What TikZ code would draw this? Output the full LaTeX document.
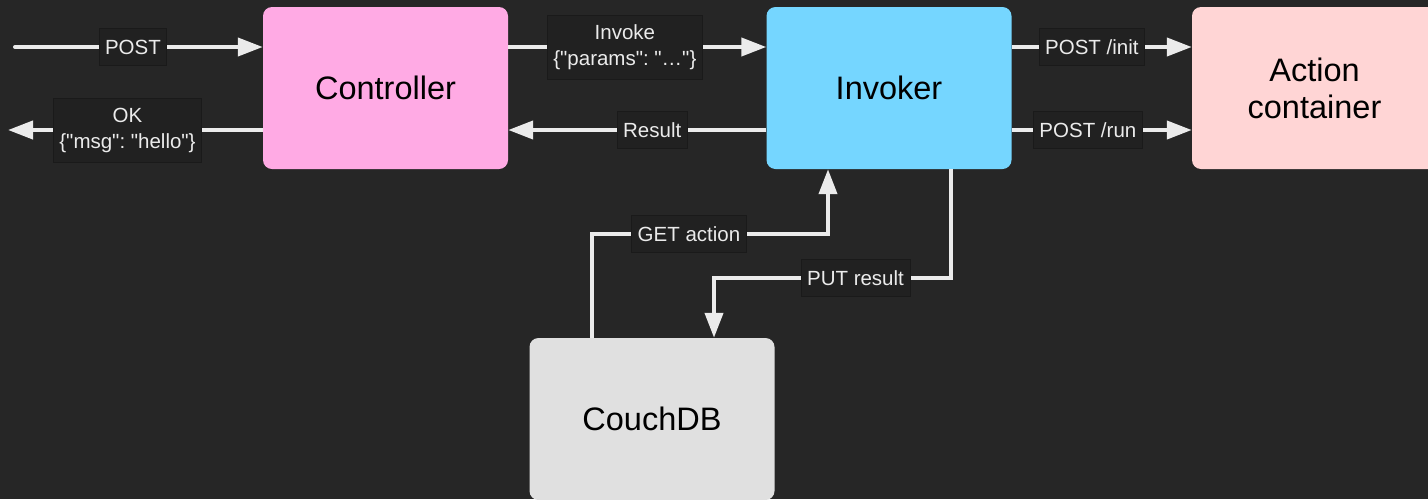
\documentclass[tikz,border=0pt]{standalone}
\usepackage{fontspec}
\setmainfont{Liberation Sans}[Ligatures=TeXOff]
\usetikzlibrary{arrows.meta}
\frenchspacing
\newcommand{\qq}{\symbol{34}}
\definecolor{bg}{HTML}{262626}
\definecolor{lblfill}{HTML}{212121}
\definecolor{lbldraw}{HTML}{1A1A1A}
\definecolor{linec}{HTML}{EBEBEB}
\definecolor{pinkc}{HTML}{FFAAE4}
\definecolor{bluec}{HTML}{75D6FF}
\definecolor{rosec}{HTML}{FFD5D5}
\definecolor{grayc}{HTML}{E0E0E0}
\tikzset{
  box/.style={rounded corners=9pt, inner sep=0pt, minimum width=245pt, minimum height=162pt,
    font=\fontsize{32.5}{37}\selectfont, text=black, align=center},
  lbl/.style={fill=lblfill, draw=lbldraw, line width=0.8pt, text=linec, inner xsep=6pt,
    inner ysep=0pt, minimum height=37pt, font=\fontsize{20.5}{26}\selectfont\frenchspacing, align=center},
  arr/.style={draw=linec, line width=4pt, -{Triangle[length=25pt,width=18pt]}},
  plain/.style={draw=linec, line width=4pt}
}
\begin{document}
\begin{tikzpicture}[x=1pt,y=-1pt]
\fill[bg] (0,0) rectangle (1428,499);
\useasboundingbox (0,0) rectangle (1428,499);
\clip (0,0) rectangle (1428,499);

\node[box, fill=pinkc] (ctrl) at (385.5,88) {Controller};
\node[box, fill=bluec] (inv) at (889,88) {Invoker};
\node[box, fill=rosec] (act) at (1314.5,88) {Action\\container};
\node[box, fill=grayc] (db) at (652,419) {CouchDB};

\coordinate (r1) at (0,47);
\coordinate (r2) at (0,130);
\coordinate (inP) at (15,47);
\coordinate (outP) at (8,130);
\coordinate (g1) at (592,234);
\coordinate (g2) at (828,234);
\coordinate (p1) at (951,278);
\coordinate (p2) at (714,278);

\draw[arr, line cap=round] (inP) -- node[lbl, pos=0.476] {POST} (ctrl.west |- r1);
\draw[arr] (ctrl.west |- r2) -- node[lbl, pos=0.531, minimum height=64pt] {OK\\\{\qq msg\qq: \qq hello\qq\}} (outP);
\draw[arr] (ctrl.east |- r1) -- node[lbl, pos=0.452, minimum height=64pt] {Invoke\\\{\qq params\qq: \qq…\qq\}} (inv.west |- r1);
\draw[arr] (inv.west |- r2) -- node[lbl, pos=0.442] {Result} (ctrl.east |- r2);
\draw[arr] (inv.east |- r1) -- node[lbl, pos=0.445] {POST /init} (act.west |- r1);
\draw[arr] (inv.east |- r2) -- node[lbl, pos=0.423] {POST /run} (act.west |- r2);
\draw[arr] (db.north -| g1) -- (g1) -- node[lbl, pos=0.411] {GET action} (g2) -- (inv.south -| g2);
\draw[arr] (inv.south -| p1) -- (p1) -- node[lbl, pos=0.403] {PUT result} (p2) -- (db.north -| p2);
\end{tikzpicture}
\end{document}
